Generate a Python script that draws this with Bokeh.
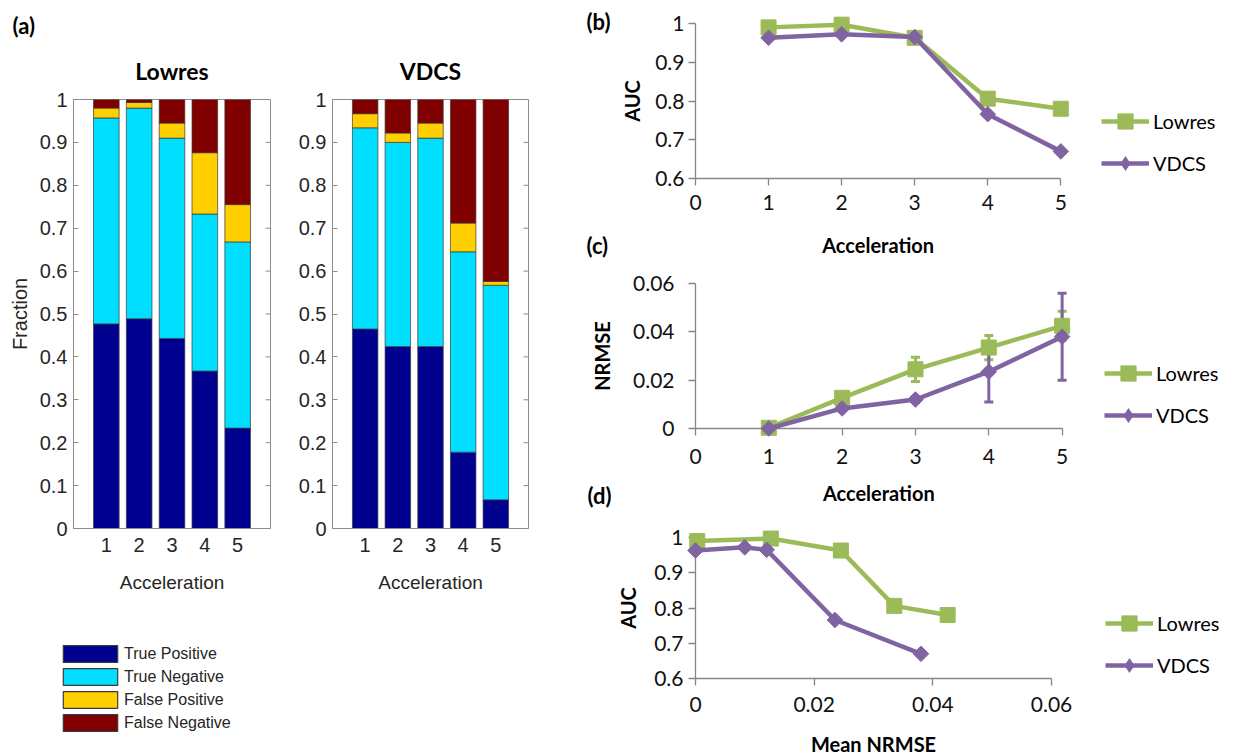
import numpy as np
from bokeh.plotting import figure
from bokeh.layouts import row, column
from bokeh.models import (ColumnDataSource, Range1d, FixedTicker, Legend, LegendItem,
                          NumeralTickFormatter, Whisker, TeeHead)
from bokeh.core.properties import value
from bokeh.embed import file_html
from bokeh.resources import INLINE

# ---------------- data ----------------
acceleration = [1, 2, 3, 4, 5]
categories = ["True Positive", "True Negative", "False Positive", "False Negative"]

lowres_tp = [0.477, 0.489, 0.443, 0.367, 0.234]
lowres_tn = [0.480, 0.491, 0.467, 0.366, 0.434]
lowres_fp = [0.023, 0.013, 0.035, 0.143, 0.087]
lowres_fn = [0.020, 0.007, 0.055, 0.124, 0.245]

vdcs_tp = [0.465, 0.424, 0.424, 0.178, 0.067]
vdcs_tn = [0.469, 0.476, 0.486, 0.467, 0.500]
vdcs_fp = [0.033, 0.022, 0.035, 0.067, 0.009]
vdcs_fn = [0.033, 0.078, 0.055, 0.288, 0.424]

auc_lowres = [0.990, 0.997, 0.963, 0.806, 0.780]
auc_vdcs = [0.963, 0.972, 0.965, 0.766, 0.670]

nrmse_lowres = [0.0003, 0.0127, 0.0245, 0.0335, 0.0425]
nrmse_vdcs = [0.0000, 0.0083, 0.0120, 0.0235, 0.0380]
nrmse_err_lowres = [0.0, 0.0008, 0.0050, 0.0050, 0.0060]
nrmse_err_vdcs = [0.0, 0.0005, 0.0012, 0.0125, 0.0180]

fraction_ticks = [0, 0.1, 0.2, 0.3, 0.4, 0.5, 0.6, 0.7, 0.8, 0.9, 1.0]
auc_ticks = [0.6, 0.7, 0.8, 0.9, 1.0]
accel_ticks = [0, 1, 2, 3, 4, 5]
nrmse_ticks = [0, 0.02, 0.04, 0.06]

# ---------------- style ----------------
BAR_COLORS = ["#00008F", "#00DFFF", "#FFCF00", "#800000"]
BAR_EDGE = "#3a3a3a"
GREEN = "#9BBB59"
PURPLE = "#8064A2"
XL_GRAY = "#868686"
ML_GRAY = "#8c8c8c"
MFONT = "Liberation Sans"
EFONT = "Lato"


def free_text(p, text, ax, ay, dx, dy, align="left", size="22px"):
    """Text placed dx, dy pixels from an anchor on the frame, drawn above the frame clip."""
    r = p.text(x=[ax], y=[ay], text=[text], x_offset=dx, y_offset=dy,
               text_align=align, text_baseline="middle", text_font=value(EFONT),
               text_font_style="bold", text_font_size=size, text_color="#000000")
    r.level = "overlay"
    return r


def bar_panel(title, tp, tn, fp, fn, width, left, right, ylabel):
    p = figure(width=width, height=600, x_range=Range1d(0, 6), y_range=Range1d(0, 1),
               output_backend="svg", toolbar_location=None,
               min_border_left=left, min_border_right=right,
               min_border_top=99, min_border_bottom=72)
    p.outline_line_color = ML_GRAY
    p.xgrid.grid_line_color = None
    p.ygrid.grid_line_color = None
    src = ColumnDataSource(dict(acc=acceleration, tp=tp, tn=tn, fp=fp, fn=fn))
    p.vbar_stack(["tp", "tn", "fp", "fn"], x="acc", width=0.78, source=src,
                 fill_color=BAR_COLORS, line_color=BAR_EDGE, line_width=0.7)

    # inward tick marks on the right edge of the box (MATLAB style)
    fw = width - left - right
    tick_len = 5 * 6.0 / fw
    p.segment(x0=[6] * len(fraction_ticks), x1=[6 - tick_len] * len(fraction_ticks),
              y0=fraction_ticks, y1=fraction_ticks, line_color=ML_GRAY, line_width=1)

    ax = p.xaxis[0]
    ax.ticker = FixedTicker(ticks=acceleration)
    ax.major_tick_in = 0
    ax.major_tick_out = 0
    ax.minor_tick_line_color = None
    ax.axis_line_color = ML_GRAY
    ax.major_label_standoff = 9
    ax.major_label_text_font = MFONT
    ax.major_label_text_font_size = "20px"
    ax.major_label_text_color = "#262626"
    ax.axis_label = "Acceleration"
    ax.axis_label_text_font = MFONT
    ax.axis_label_text_font_style = "normal"
    ax.axis_label_text_font_size = "19px"
    ax.axis_label_text_color = "#262626"
    ax.axis_label_standoff = 17

    ay = p.yaxis[0]
    ay.ticker = FixedTicker(ticks=fraction_ticks)
    ay.formatter = NumeralTickFormatter(format="0.[0]")
    ay.major_tick_in = 5
    ay.major_tick_out = 0
    ay.major_tick_line_color = ML_GRAY
    ay.minor_tick_line_color = None
    ay.axis_line_color = ML_GRAY
    ay.major_label_standoff = 6
    ay.major_label_text_font = MFONT
    ay.major_label_text_font_size = "20px"
    ay.major_label_text_color = "#262626"
    if ylabel:
        ay.axis_label = ylabel
        ay.axis_label_text_font = MFONT
        ay.axis_label_text_font_style = "normal"
        ay.axis_label_text_font_size = "20px"
        ay.axis_label_text_color = "#262626"
        ay.axis_label_standoff = 6

    free_text(p, title, 3, 1, 0, -29, align="center", size="23px")
    return p


def legend_panel():
    p = figure(width=575, height=155, x_range=Range1d(0, 1), y_range=Range1d(0, 1),
               x_axis_type=None, y_axis_type=None, output_backend="svg",
               toolbar_location=None, min_border=0)
    p.outline_line_color = None
    p.xgrid.grid_line_color = None
    p.ygrid.grid_line_color = None
    items = []
    for c, col in zip(categories, BAR_COLORS):
        # legend key only: a zero-size bar (nothing visible in the frame)
        r = p.vbar(x=[0.5], top=[0], bottom=[0], width=0, fill_color=col,
                   line_color=BAR_EDGE, line_width=1.2)
        items.append(LegendItem(label=c, renderers=[r]))
    lg = Legend(items=items, location=(56, 22), glyph_width=68, glyph_height=21,
                label_height=21, spacing=2, padding=0, margin=0, label_standoff=0,
                border_line_color=None, background_fill_alpha=0,
                label_text_font=MFONT, label_text_font_size="16px",
                label_text_color="#262626")
    p.add_layout(lg)
    return p


def excel_panel(height, top, bottom, left, data_w, x_max, y_rng, x_ticks, y_ticks,
                xfmt, yfmt, xlabel, xlabel_dy, ylabel, xs_low, ys_low, xs_v, ys_v,
                legend_loc, xstand, ystand, ylstand, errs=None):
    width = 659
    right = 4
    frame_w = width - left - right
    x_end = x_max * frame_w / data_w   # frame extends to the right to host the legend
    p = figure(width=width, height=height, x_range=Range1d(0, x_end), y_range=Range1d(*y_rng),
               output_backend="svg", toolbar_location=None,
               min_border_left=left, min_border_right=right,
               min_border_top=top, min_border_bottom=bottom)
    p.outline_line_color = None
    p.xgrid.grid_line_color = None
    p.ygrid.grid_line_color = None

    for a, ticks, fmt, st in ((p.xaxis[0], x_ticks, xfmt, xstand),
                              (p.yaxis[0], y_ticks, yfmt, ystand)):
        a.ticker = FixedTicker(ticks=ticks)
        a.formatter = NumeralTickFormatter(format=fmt)
        a.axis_line_color = XL_GRAY
        a.axis_line_width = 1.3
        a.major_tick_line_color = XL_GRAY
        a.major_tick_line_width = 1.3
        a.major_tick_out = 7
        a.major_tick_in = 0
        a.minor_tick_line_color = None
        a.major_label_standoff = st
        a.major_label_text_font = EFONT
        a.major_label_text_font_size = "21px"
        a.major_label_text_color = "#111111"
    p.xaxis[0].bounds = (0, x_max)
    ay = p.yaxis[0]
    ay.axis_label = ylabel
    ay.axis_label_text_font = EFONT
    ay.axis_label_text_font_style = "bold"
    ay.axis_label_text_font_size = "20px"
    ay.axis_label_text_color = "#000000"
    ay.axis_label_standoff = ylstand
    # x-axis title, centred under the plotted axis span
    free_text(p, xlabel, x_max / 2, y_rng[0], 0, xlabel_dy, align="center", size="20px")

    if errs is not None:
        for ys, e, col in ((ys_low, errs[0], GREEN), (ys_v, errs[1], PURPLE)):
            es = ColumnDataSource(dict(x=xs_low, lo=[v - d for v, d in zip(ys, e)],
                                       hi=[v + d for v, d in zip(ys, e)]))
            w = Whisker(base="x", upper="hi", lower="lo", source=es, line_color=col,
                        line_width=3,
                        upper_head=TeeHead(size=9, line_color=col, line_width=3),
                        lower_head=TeeHead(size=9, line_color=col, line_width=3))
            p.add_layout(w)

    l1 = p.line(xs_low, ys_low, line_color=GREEN, line_width=4.5)
    m1 = p.scatter(xs_low, ys_low, marker="square", size=15, fill_color=GREEN, line_color=GREEN)
    l2 = p.line(xs_v, ys_v, line_color=PURPLE, line_width=4.5)
    m2 = p.scatter(xs_v, ys_v, marker="square", angle=np.pi / 4, size=11,
                   fill_color=PURPLE, line_color=PURPLE)
    for r in (l1, m1, l2, m2):
        r.level = "overlay"
    # legend key for the diamond marker (zero size, nothing drawn in the frame)
    k2 = p.scatter(x=xs_v[:1], y=ys_v[:1], marker="diamond", size=0,
                   fill_color=PURPLE, line_color=PURPLE, line_width=0)

    lg = Legend(items=[LegendItem(label="Lowres", renderers=[l1, m1]),
                       LegendItem(label="VDCS", renderers=[l2, k2])],
                location=legend_loc, glyph_width=48, glyph_height=38, label_height=38,
                spacing=4, padding=0, margin=0, label_standoff=4,
                border_line_color=None, background_fill_alpha=0,
                label_text_font=EFONT, label_text_font_size="20px",
                label_text_color="#000000")
    p.add_layout(lg)
    return p


fa1 = bar_panel("Lowres", lowres_tp, lowres_tn, lowres_fp, lowres_fn, 290, 73, 20, "Fraction")
fa2 = bar_panel("VDCS", vdcs_tp, vdcs_tn, vdcs_fp, vdcs_fn, 285, 42, 47, None)
free_text(fa1, "(a)", 0, 1, -61, 25 - 99)
fleg = legend_panel()

fb = excel_panel(260, 23, 82, 119, 366, 5, (0.6, 1.0), accel_ticks, auc_ticks,
                 "0", "0.[0]", "Acceleration", 244 - 178, "AUC",
                 acceleration, auc_lowres, acceleration, auc_vdcs, (406, -4),
                 9, 4, 8)
free_text(fb, "(b)", 0, 1.0, -109, 21 - 23)
free_text(fb, "(c)", 0, 0.6, -109, 245 - 178)

fc = excel_panel(248, 23, 80, 118, 368, 5, (0, 0.06), accel_ticks, nrmse_ticks,
                 "0", "0.[00]", "Acceleration", 492 - 428, "NRMSE",
                 acceleration, nrmse_lowres, acceleration, nrmse_vdcs, (409, -6),
                 13, 14, 16, errs=(nrmse_err_lowres, nrmse_err_vdcs))
free_text(fc, "(d)", 0, 0, -108, 495 - 428)

fd = excel_panel(247, 29, 77, 120, 356, 0.06, (0.6, 1.0), nrmse_ticks, auc_ticks,
                 "0.[00]", "0.[0]", "Mean NRMSE", 743 - 678, "AUC",
                 nrmse_lowres, auc_lowres, nrmse_vdcs, auc_vdcs, (410, -6),
                 11, 5, 11)

layout = row(column(row(fa1, fa2, spacing=0), fleg, spacing=0),
             column(fb, fc, fd, spacing=0), spacing=0)

open("out.html", "w").write(file_html(layout, INLINE))
